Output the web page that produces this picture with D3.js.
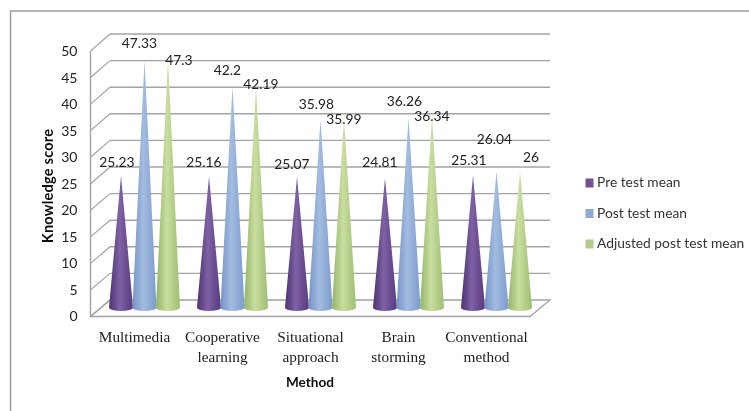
<!DOCTYPE html>
<html><head><meta charset="utf-8">
<script src="https://cdnjs.cloudflare.com/ajax/libs/d3/7.8.5/d3.min.js"></script>
<style>html,body{margin:0;padding:0;background:#fff;overflow:hidden}svg{display:block}</style>
</head><body><svg id="c" width="749" height="411"></svg>
<script>
const categories = ["Multimedia","Cooperative learning","Situational approach","Brain storming","Conventional method"];
const categoryLines = [["Multimedia"],["Cooperative","learning"],["Situational","approach"],["Brain","storming"],["Conventional","method"]];
const seriesNames = ["Pre test mean","Post test mean","Adjusted post test mean"];
const preTest = [25.23,25.16,25.07,24.81,25.31];
const postTest = [47.33,42.2,35.98,36.26,26.04];
const adjusted = [47.3,42.19,35.99,36.34,26];
const valueLabels = [["25.23","25.16","25.07","24.81","25.31"],["47.33","42.2","35.98","36.26","26.04"],["47.3","42.19","35.99","36.34","26"]];
const yTicks = [0,5,10,15,20,25,30,35,40,45,50];
const seriesValues = [preTest,postTest,adjusted];

// layout tweaks for the data labels (offset from each cone tip), by series then category
const labelDx = [[-4,-5,-5,-5,-4],[-5,-5,-4,-4,-2],[11,5,0,0,11]];
const labelDy = [[-14,-14,-13,-16,-15],[-17,-17,-16,-17,-33],[-1,-3,-1,-2,-15]];

const svg = d3.select("#c");
const defs = svg.append("defs");
defs.append("filter").attr("id","soft").append("feGaussianBlur").attr("stdDeviation",0.4);
const ramps = [["#4c3370","#7f60a6","#573b7e"],["#7393c8","#a3bce0","#7d9ccd"],["#93b266","#c9dea0","#9fbe73"]];
const legendCols = ["#6f5290","#8fa9d3","#b5cb8d"];
ramps.forEach((r,i)=>{
  const g = defs.append("linearGradient").attr("id","g"+i).attr("x1",0).attr("x2",1).attr("y1",0).attr("y2",0);
  [[0,r[0]],[.45,r[1]],[1,r[2]]].forEach(s=>g.append("stop").attr("offset",s[0]).attr("stop-color",s[1]));
});

const root = svg.append("g").attr("filter","url(#soft)");
const gray = "#a3a3a3";
root.append("path").attr("d","M10.5,411V11H749").attr("fill","none").attr("stroke","#9a9a9a").attr("stroke-width",1.5);

const yFront = d3.scaleLinear().domain([0,50]).range([316.5,51]);
const yBack = d3.scaleLinear().domain([0,50]).range([300,34]);
const frontL = 90.5, backL = 110, backR = 550, frontR = 530;

// floor
root.append("path").attr("d",`M${frontL},${yFront(0)}L${backL},${yBack(0)}L${backR},${yBack(0)}L${frontR},${yFront(0)}Z`)
  .attr("fill","#fbfbfb").attr("stroke",gray).attr("stroke-width",1.3);
// grid and side wall
yTicks.forEach(t=>{
  if(t>0) root.append("line").attr("x1",backL).attr("x2",backR).attr("y1",yBack(t)).attr("y2",yBack(t)).attr("stroke",gray).attr("stroke-width",1.4);
  root.append("line").attr("x1",frontL).attr("x2",backL).attr("y1",yFront(t)).attr("y2",yBack(t)).attr("stroke",gray).attr("stroke-width",1.2);
});
root.append("line").attr("x1",frontL).attr("x2",frontL).attr("y1",yFront(0)).attr("y2",yFront(50)).attr("stroke",gray).attr("stroke-width",1.4);

// axis labels
const yAxis = d3.axisLeft(yFront).tickValues(yTicks).tickSize(0).tickPadding(13);
const ya = root.append("g").attr("transform",`translate(${frontL},0)`).call(yAxis);
ya.select(".domain").remove();
ya.selectAll("text").attr("font-family","Lato").attr("font-size",14).attr("fill","#222");

// cones
const x0 = d3.scaleBand().domain(categories).range([100.5,540.5]);
const x1 = d3.scaleBand().domain(seriesNames).range([-35.25,35.25]);
const coneH = d3.scaleLinear().domain([0,50]).range([0,261]);
const baseY = 307.5, rx = 12, ry = 3.4, k = 0.5523;
seriesNames.forEach((s,si)=>{
  categories.forEach((c,ci)=>{
    const v = seriesValues[si][ci];
    const cx = x0(c)+x0.bandwidth()/2 + x1(s)+x1.bandwidth()/2;
    const tip = baseY - coneH(v);
    const p = d3.path();
    p.moveTo(cx,tip);
    p.lineTo(cx+rx,baseY);
    p.bezierCurveTo(cx+rx,baseY+ry*k,cx+rx*k,baseY+ry,cx,baseY+ry);
    p.bezierCurveTo(cx-rx*k,baseY+ry,cx-rx,baseY+ry*k,cx-rx,baseY);
    p.closePath();
    root.append("path").attr("d",p.toString()).attr("fill",`url(#g${si})`);
    root.append("text").attr("x",cx+labelDx[si][ci]).attr("y",tip+labelDy[si][ci]+5)
      .attr("text-anchor","middle").attr("font-family","Lato").attr("font-size",13.8).attr("fill","#222")
      .text(valueLabels[si][ci]);
  });
});

// category labels
categories.forEach((c,ci)=>{
  const cx = x0(c)+x0.bandwidth()/2-10;
  categoryLines[ci].forEach((ln,li)=>{
    root.append("text").attr("x",cx).attr("y",342+li*19.5).attr("text-anchor","middle")
      .attr("font-family","Liberation Serif").attr("font-size",15.3).attr("fill","#222").text(ln);
  });
});

// titles
root.append("text").attr("x",310).attr("y",387).attr("text-anchor","middle").attr("font-family","Lato")
  .attr("font-weight","bold").attr("font-size",13.6).attr("fill","#111").text("Method");
root.append("text").attr("transform","translate(53,186) rotate(-90)").attr("text-anchor","middle").attr("font-family","Lato")
  .attr("font-weight","bold").attr("font-size",14.6).attr("letter-spacing",0.2).attr("fill","#111").text("Knowledge score");

// legend
const legY = d3.scalePoint().domain(seriesNames).range([182.5,243.5]);
seriesNames.forEach((s,i)=>{
  root.append("rect").attr("x",585.5).attr("y",legY(s)-4).attr("width",8).attr("height",9).attr("fill",legendCols[i]);
  root.append("text").attr("x",597).attr("y",legY(s)+4.5).attr("font-family","Lato").attr("font-size",13.8).attr("fill","#333").text(s);
});
</script></body></html>
